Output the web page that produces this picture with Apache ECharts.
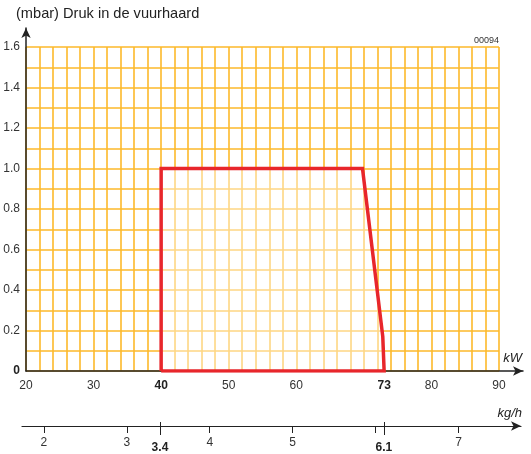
<!DOCTYPE html>
<html>
<head>
<meta charset="utf-8">
<script src="https://cdn.jsdelivr.net/npm/echarts@6/dist/echarts.min.js"></script>
<style>
  html, body { margin: 0; padding: 0; background: #fff; }
  #chart { width: 531px; height: 454px; }
</style>
</head>
<body>
<div id="chart"></div>
<script>
// werkgebied (kW, mbar)
var areaKw = [40, 40, 69.8, 72.8, 73, 40];
var areaMbar = [0, 1.0, 1.0, 0.17, 0, 0];
var kwLabels = [20, 30, 40, 50, 60, 73, 80, 90];
var kwBold = [40, 73];
var mbarLabels = [0, 0.2, 0.4, 0.6, 0.8, 1.0, 1.2, 1.4, 1.6];
var kghTicks = [2, 3, 4, 5, 6, 7];
var kghLabels = [2, 3, 4, 5, 7];
var kghBold = [3.4, 6.1];

var font = 'Liberation Sans, Arial, sans-serif';
var gridColor = '#FDB92A';
var red = '#E8262B';

var chart = echarts.init(document.getElementById('chart'));

var points = areaKw.map(function (x, i) { return [x, areaMbar[i]]; });

chart.setOption({
  animation: false,
  grid: [
    { left: 26, right: 32, top: 47, bottom: 83 },          // raster
    { left: 26, right: 8, top: 28, bottom: 83 },           // assen met pijlen
    { left: 22, right: 10, top: 380, bottom: 28 },         // kg/h
    { left: 22, right: 10, top: 380, bottom: 28 }          // kg/h vet
  ],
  xAxis: [
    {
      gridIndex: 0, type: 'value', min: 20, max: 90, interval: 2,
      axisLine: { show: false }, axisTick: { show: false },
      splitLine: { show: true, lineStyle: { color: gridColor, width: 1.6 } },
      axisLabel: {
        customValues: kwLabels, margin: 9, color: '#333', fontSize: 12, fontFamily: font,
        formatter: function (v) { return kwBold.indexOf(v) >= 0 ? '{b|' + v + '}' : String(v); },
        rich: { b: { fontWeight: 'bold', fontSize: 12, fontFamily: font, color: '#222' } }
      }
    },
    {
      gridIndex: 1, type: 'value', min: 0, max: 1,
      axisLine: { show: true, symbol: ['none', 'arrow'], symbolSize: [7, 10], lineStyle: { color: '#222', width: 1.5 } },
      axisTick: { show: false }, axisLabel: { show: false }, splitLine: { show: false }
    },
    {
      gridIndex: 2, type: 'value', min: 1.737, max: 7.752, position: 'bottom',
      axisLine: { show: true, symbol: ['none', 'arrow'], symbolSize: [7, 10], lineStyle: { color: '#222', width: 1.2 } },
      axisTick: { show: true, customValues: kghTicks, length: 7, lineStyle: { color: '#222' } },
      splitLine: { show: false },
      axisLabel: { customValues: kghLabels, margin: 11, color: '#333', fontSize: 12, fontFamily: font }
    },
    {
      gridIndex: 3, type: 'value', min: 1.737, max: 7.752, position: 'bottom',
      axisLine: { show: false },
      axisTick: { show: true, customValues: kghBold, length: 13, lineStyle: { color: '#222' } },
      splitLine: { show: false },
      axisLabel: {
        customValues: kghBold, margin: 20, color: '#222', fontSize: 12, fontFamily: font, fontWeight: 'bold'
      }
    }
  ],
  yAxis: [
    {
      gridIndex: 0, type: 'value', min: 0, max: 1.6, interval: 0.1,
      axisLine: { show: false }, axisTick: { show: false },
      splitLine: { show: true, lineStyle: { color: gridColor, width: 1.6 } },
      axisLabel: {
        customValues: mbarLabels, margin: 6, color: '#333', fontSize: 12, fontFamily: font,
        formatter: function (v) { return v === 0 ? '{b|0}' : v.toFixed(1); },
        rich: { b: { fontWeight: 'bold', fontSize: 12, fontFamily: font, color: '#222' } }
      }
    },
    {
      gridIndex: 1, type: 'value', min: 0, max: 1,
      axisLine: { show: true, symbol: ['none', 'arrow'], symbolSize: [7, 10], lineStyle: { color: '#222', width: 1.5 } },
      axisTick: { show: false }, axisLabel: { show: false }, splitLine: { show: false }
    },
    { gridIndex: 2, type: 'value', show: false },
    { gridIndex: 3, type: 'value', show: false }
  ],
  series: [
    {
      type: 'line',
      xAxisIndex: 0, yAxisIndex: 0,
      data: points,
      symbol: 'none',
      lineStyle: { color: red, width: 3.5, join: 'miter' },
      areaStyle: { color: 'rgba(255,255,255,0.6)', origin: 'start' },
      z: 5
    }
  ],
  graphic: [
    { type: 'text', left: 16, top: 6, style: { text: '(mbar) Druk in de vuurhaard', fontSize: 14.6, fontFamily: font, fill: '#222' } },
    { type: 'text', right: 32, top: 36, style: { text: '00094', fontSize: 9, fontFamily: font, fill: '#333' } },
    { type: 'text', right: 9, top: 352, style: { text: 'kW', fontSize: 13, fontStyle: 'italic', fontFamily: font, fill: '#222' } },
    { type: 'text', right: 9, top: 407, style: { text: 'kg/h', fontSize: 13, fontStyle: 'italic', fontFamily: font, fill: '#222' } }
  ]
});
</script>
</body>
</html>
